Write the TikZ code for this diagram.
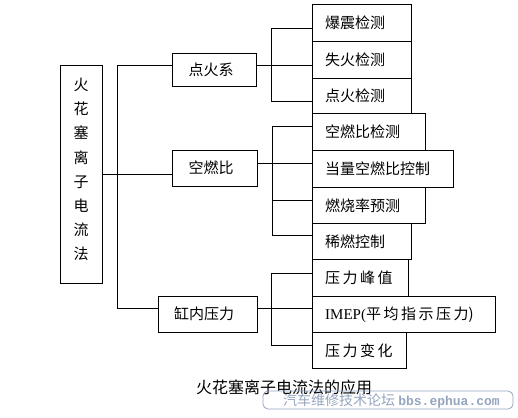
\documentclass[tikz,border=0pt]{standalone}
\usepackage{fontspec}
\setmainfont{Noto Sans CJK SC}
\newfontfamily\wmono{Liberation Mono}
\definecolor{wm}{RGB}{150,165,190}
\begin{document}
\begin{tikzpicture}[x=1pt,y=-1pt,
  box/.style={draw=black, line width=0.8pt, inner sep=0pt},
  leaf/.style={box, anchor=north west},
  lt/.style={anchor=west, inner sep=0pt, font=\fontsize{15}{15}\selectfont},
  ct/.style={inner sep=0pt, font=\fontsize{15}{15}\selectfont},
  wire/.style={line width=0.8pt}]
\useasboundingbox (0,0) rectangle (518,417);
\fill[white] (0,0) rectangle (518,417);

% main box
\node[box, minimum width=42pt, minimum height=218pt] (main) at (81,174) {};
\node[ct, align=center, font=\fontsize{15}{24.1}\selectfont] (maintext) at (81,169.5)
  {火\\花\\塞\\离\\子\\电\\流\\法};

% middle boxes
\node[box, minimum width=84pt, minimum height=33pt] (dian) at (214,69.5) {};
\node[ct] (diant) at (211,69.5) {点火系};
\node[box, minimum width=85pt, minimum height=36pt] (kong) at (214.5,168) {};
\node[ct] (kongt) at (211,168) {空燃比};
\node[box, minimum width=99pt, minimum height=36pt] (gang) at (207.5,314) {};
\node[ct] (gangt) at (204,314) {缸内压力};

% leaf boxes
\node[leaf, minimum width=99pt, minimum height=37pt] (b1) at (312,4) {};
\node[leaf, minimum width=99pt, minimum height=37pt] (b2) at (312,41) {};
\node[leaf, minimum width=99pt, minimum height=35pt] (b3) at (312,78) {};
\node[leaf, minimum width=113pt, minimum height=37pt] (b4) at (312,113) {};
\node[leaf, minimum width=141pt, minimum height=37pt] (b5) at (312,150) {};
\node[leaf, minimum width=113pt, minimum height=36pt] (b6) at (312,187) {};
\node[leaf, minimum width=99pt, minimum height=36pt] (b7) at (312,223) {};
\node[leaf, minimum width=96pt, minimum height=37pt] (b8) at (312,259) {};
\node[leaf, minimum width=183pt, minimum height=36pt] (b9) at (312,296) {};
\node[leaf, minimum width=94pt, minimum height=36pt] (b10) at (312,332) {};

\node[lt] (t1) at ([xshift=13pt]b1.west) {爆震检测};
\node[lt] (t2) at ([xshift=13pt]b2.west) {失火检测};
\node[lt] (t3) at ([xshift=13pt]b3.west) {点火检测};
\node[lt] (t4) at ([xshift=13pt]b4.west) {空燃比检测};
\node[lt] (t5) at ([xshift=13pt]b5.west) {当量空燃比控制};
\node[lt] (t6) at ([xshift=13pt]b6.west) {燃烧率预测};
\node[lt] (t7) at ([xshift=13pt]b7.west) {稀燃控制};
\node[lt] (t8) at ([xshift=13pt]b8.west) {压\,力\,峰\,值};
\node[lt] (t9) at ([xshift=13pt]b9.west) {{\fontspec{Liberation Serif}IMEP(}平\,均\,指\,示\,压\,力)};
\node[lt] (t10) at ([xshift=13pt]b10.west) {压\,力\,变\,化};

% trunk
\coordinate (trtop) at (117,65);
\coordinate (trbot) at (117,308);
\draw[wire] (dian.west |- trtop) -- (trtop) -- (trbot) -- (gang.west |- trbot);
\draw[wire] (main.east) -- (kong.west |- main.east);

% group 1
\coordinate (g1a) at (271,28);
\coordinate (g1b) at (271,65);
\coordinate (g1c) at (271,101);
\draw[wire] (dian.east |- g1b) -- (b2.west |- g1b);
\draw[wire] (b1.west |- g1a) -- (g1a) -- (g1c) -- (b3.west |- g1c);

% group 2
\coordinate (g2a) at (272,126);
\coordinate (g2b) at (272,163);
\coordinate (g2c) at (272,200);
\coordinate (g2d) at (272,235);
\draw[wire] (kong.east |- g2b) -- (b5.west |- g2b);
\draw[wire] (b4.west |- g2a) -- (g2a) -- (g2d) -- (b7.west |- g2d);
\draw[wire] (g2c) -- (b6.west |- g2c);

% group 3
\coordinate (g3a) at (271,273);
\coordinate (g3b) at (271,308);
\coordinate (g3c) at (271,345);
\draw[wire] (gang.east |- g3b) -- (b9.west |- g3b);
\draw[wire] (b8.west |- g3a) -- (g3a) -- (g3c) -- (b10.west |- g3c);

% caption
\node[inner sep=0pt, font=\fontsize{16}{16}\selectfont] (cap) at (284,387) {火花塞离子电流法的应用};

% watermark
\node[draw=wm, line width=0.8pt, rounded corners=5pt, minimum width=250pt, minimum height=18pt, inner sep=0pt] (wmbox) at (388,400) {};
\node[anchor=west, inner sep=0pt, text=wm, font=\fontsize{14}{14}\selectfont] (wmtext) at (283,401)
  {汽车维修技术论坛 {\wmono\bfseries\fontsize{13}{13}\selectfont bbs.ephua.com}};
\end{tikzpicture}
\end{document}
